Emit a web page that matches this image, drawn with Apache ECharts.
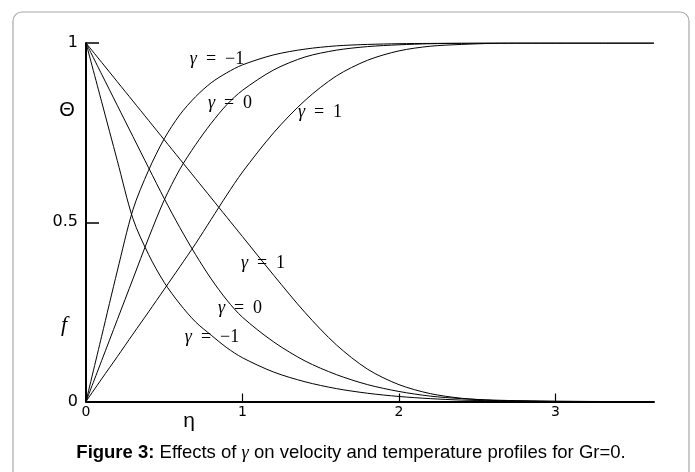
<!DOCTYPE html>
<html>
<head>
<meta charset="utf-8">
<script src="https://cdn.jsdelivr.net/npm/echarts@6/dist/echarts.min.js"></script>
<style>
  html, body { margin: 0; padding: 0; background: #fff; }
  #main { width: 695px; height: 472px; }
</style>
</head>
<body>
<div id="main"></div>
<script>
// eta grid (x)
const eta = [0, 0.1, 0.2, 0.3, 0.4, 0.5, 0.6, 0.7, 0.8, 0.9, 1.0, 1.2, 1.4, 1.6, 1.8, 2.0, 2.2, 2.4, 2.6, 2.8, 3.0, 3.3, 3.63];

// temperature profiles theta, rising 0 -> 1
const thetaM1 = [0, 0.182, 0.364, 0.535, 0.645, 0.733, 0.800, 0.850, 0.889, 0.917, 0.939, 0.967, 0.983, 0.992, 0.996, 0.998, 0.999, 1, 1, 1, 1, 1, 1];
const theta0  = [0, 0.114, 0.228, 0.342, 0.456, 0.562, 0.648, 0.716, 0.776, 0.828, 0.868, 0.925, 0.961, 0.980, 0.990, 0.995, 0.998, 0.999, 1, 1, 1, 1, 1];
const theta1  = [0, 0.063, 0.125, 0.188, 0.250, 0.313, 0.376, 0.440, 0.508, 0.576, 0.640, 0.750, 0.840, 0.908, 0.952, 0.978, 0.991, 0.996, 0.999, 1, 1, 1, 1];

// velocity profiles f, falling 1 -> 0
const fM1 = [1, 0.836, 0.672, 0.510, 0.410, 0.332, 0.272, 0.222, 0.185, 0.150, 0.122, 0.082, 0.055, 0.036, 0.023, 0.014, 0.008, 0.004, 0.002, 0.001, 0, 0, 0];
const f0  = [1, 0.913, 0.826, 0.739, 0.652, 0.566, 0.485, 0.410, 0.342, 0.283, 0.235, 0.166, 0.113, 0.075, 0.047, 0.028, 0.015, 0.008, 0.004, 0.002, 0.001, 0, 0];
const f1  = [1, 0.946, 0.892, 0.838, 0.784, 0.730, 0.676, 0.622, 0.568, 0.514, 0.460, 0.352, 0.248, 0.158, 0.090, 0.047, 0.022, 0.009, 0.003, 0.001, 0, 0, 0];

const xTicks = [0, 1, 2, 3];
const yTicks = [0, 0.5, 1];

const curves = [thetaM1, theta0, theta1, fM1, f0, f1];

// curve labels: [text after gamma, x, y]
const curveLabels = [
  ['−1', 217, 59], ['0', 230, 103], ['1', 320, 112],
  ['1', 263, 263], ['0', 240, 308], ['−1', 212, 337]
];

const serif = '"Liberation Serif", "DejaVu Serif", serif';
const sans = '"Liberation Sans", Arial, sans-serif';
const wide = '"DejaVu Sans", sans-serif';

function lineSeries(vals) {
  return {
    type: 'line',
    data: eta.map((x, i) => [x, vals[i]]),
    showSymbol: false,
    smooth: 0.3,
    lineStyle: { color: '#000', width: 1 },
    silent: true
  };
}

const graphics = [
  {
    type: 'rect', silent: true, z: -1,
    shape: { x: 13, y: 12, width: 676, height: 475, r: 9 },
    style: { fill: 'none', stroke: '#a8a8a8', lineWidth: 1.2 }
  },
  { type: 'text', x: 67, y: 110, style: { text: 'Θ', font: '20px ' + sans, fill: '#000', textAlign: 'center', textVerticalAlign: 'middle' } },
  { type: 'text', x: 64, y: 325, style: { text: 'f', font: 'italic 22px ' + serif, fill: '#000', textAlign: 'center', textVerticalAlign: 'middle' } },
  { type: 'text', x: 189, y: 421, style: { text: 'η', font: '21px ' + sans, fill: '#000', textAlign: 'center', textVerticalAlign: 'middle' } },
  {
    type: 'text', x: 351, y: 453,
    style: {
      text: '{b|Figure 3:} Effects of {g|γ} on velocity and temperature profiles for Gr=0.',
      font: '18.5px ' + sans, fill: '#000', textAlign: 'center', textVerticalAlign: 'middle',
      rich: {
        b: { fontWeight: 'bold', fontSize: 18.5, fontFamily: sans },
        g: { fontStyle: 'italic', fontSize: 18.5, fontFamily: serif }
      }
    }
  }
];

curveLabels.forEach(([t, x, y]) => {
  graphics.push({
    type: 'text', x: x, y: y,
    style: {
      text: '{g|γ}\u2002=\u2002' + t,
      font: '18px ' + serif, fill: '#000', textAlign: 'center', textVerticalAlign: 'middle',
      rich: { g: { fontStyle: 'italic', fontSize: 18, fontFamily: serif } }
    }
  });
});

const chart = echarts.init(document.getElementById('main'), null, { renderer: 'canvas' });
chart.setOption({
  animation: false,
  backgroundColor: '#fff',
  grid: { left: 86, top: 43, width: 568, height: 358.5, containLabel: false, outerBoundsMode: 'none' },
  xAxis: {
    type: 'value', min: 0, max: 3.63, interval: 1,
    axisLine: { show: true, lineStyle: { color: '#000', width: 2 } },
    axisTick: { show: true, inside: true, length: 8, lineStyle: { color: '#000', width: 1.2 } },
    axisLabel: {
      show: true, color: '#000', fontSize: 14, fontFamily: wide, margin: 4,
      showMaxLabel: false,
      formatter: v => (xTicks.indexOf(v) >= 0 ? String(v) : '')
    },
    splitLine: { show: false }
  },
  yAxis: {
    type: 'value', min: 0, max: 1, interval: 0.5,
    axisLine: { show: true, lineStyle: { color: '#000', width: 2 } },
    axisTick: { show: true, inside: true, length: 13, lineStyle: { color: '#000', width: 1.5 } },
    axisLabel: {
      show: true, color: '#000', fontSize: 16, fontFamily: wide, margin: 8,
      formatter: v => (yTicks.indexOf(v) >= 0 ? String(v) : '')
    },
    splitLine: { show: false }
  },
  series: curves.map(lineSeries),
  graphic: graphics
});
</script>
</body>
</html>
